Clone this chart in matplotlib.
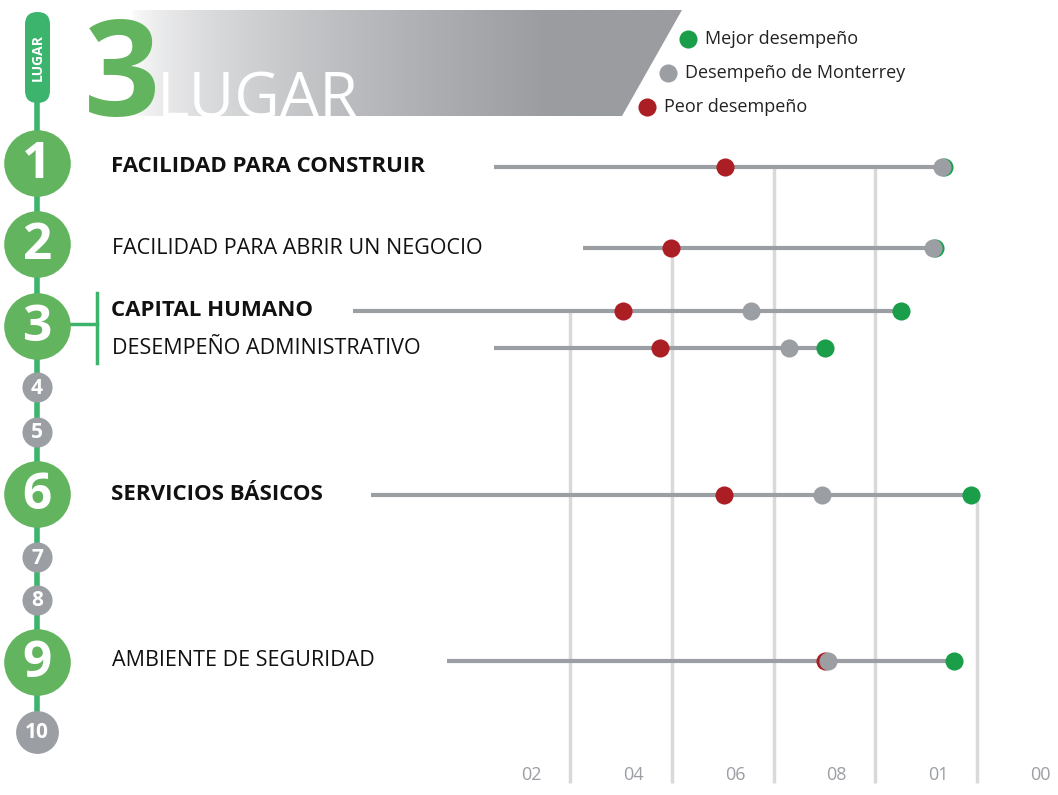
import numpy as np
import matplotlib
matplotlib.use("Agg")
from matplotlib import pyplot as plt
from matplotlib.patches import Polygon, FancyBboxPatch

# datos del ranking (valores en la escala 0-100 aprox.)
indicadores = ["FACILIDAD PARA CONSTRUIR", "FACILIDAD PARA ABRIR UN NEGOCIO",
               "CAPITAL HUMANO", "DESEMPEÑO ADMINISTRATIVO",
               "SERVICIOS BÁSICOS", "AMBIENTE DE SEGURIDAD"]
lugar = [1, 2, 3, 3, 6, 9]
negrita = [True, False, True, False, True, False]
peor = [50.4, 39.8, 30.4, 37.7, 50.3, 70.0]
monterrey = [93.0, 91.3, 55.5, 63.0, 69.5, 70.6]
mejor = [93.4, 91.8, 85.0, 70.0, 98.8, 95.4]

tick_labels = ["02", "04", "06", "08", "01", "00"]
grid_vals = [20, 40, 60, 80, 100]
grid_from_row = [2, 1, 0, 0, 4]

# layout (pixeles)
W, H = 1058, 795
row_y = [167, 248, 311, 348, 495, 661]
line_from = [5.1, 22.6, -22.6, 5.1, -19.1, -4.2]
rank_y = [163, 244, 326, 387, 432, 494, 557, 600, 662, 732]
PX_PER_UNIT = 5.09
X0_PX = 570  # pixel del valor 20

VERDE = "#1a9e4a"
VERDE_CLARO = "#62b55e"
VERDE_LINEA = "#3cb46e"
GRIS = "#9b9ea3"
ROJO = "#ab1e24"
GRID = "#d9d9d9"

plt.rcParams['font.family'] = ['Open Sans', 'DejaVu Sans']

fig = plt.figure(figsize=(W / 100, H / 100), dpi=100)

# ejes de decoracion en pixeles
deco = fig.add_axes([0, 0, 1, 1])
deco.set_xlim(0, W)
deco.set_ylim(H, 0)
deco.axis('off')

# ejes de datos
ax = fig.add_axes([0, 0, 1, 1], zorder=2)
ax.patch.set_alpha(0)
ax.set_xlim(20 - X0_PX / PX_PER_UNIT, 20 + (W - X0_PX) / PX_PER_UNIT)
ax.set_ylim(H, 0)
ax.axis('off')

# banner con degradado
banner = Polygon([(120, 10), (682, 10), (622, 116), (120, 116)], closed=True,
                 facecolor='none', edgecolor='none')
deco.add_patch(banner)
xs = np.linspace(0, 1, 400)
t = np.clip((xs - 0.02) / 0.75, 0, 1) ** 0.6
c0 = np.array([1.0, 1.0, 1.0])
c1 = np.array([0x9a, 0x9c, 0xa0]) / 255
grad = (c0[None, :] * (1 - t[:, None]) + c1[None, :] * t[:, None])[None, :, :]
im = deco.imshow(grad, extent=(120, 682, 116, 10), aspect='auto', zorder=1)
im.set_clip_path(banner)

deco.text(84, 116, "3", color=VERDE_CLARO, fontsize=96, fontweight='bold',
          ha='left', va='baseline', zorder=3)
deco.text(157, 118, "LUGAR", color='white', fontsize=45, ha='left',
          va='baseline', zorder=4)

# pastilla LUGAR y linea de tiempo
deco.plot([37, 37], [60, rank_y[-1]], color=VERDE_LINEA, lw=4, zorder=2)
pill = FancyBboxPatch((25, 12), 25, 91, boxstyle="round,pad=0,rounding_size=12.5",
                      facecolor=VERDE_LINEA, edgecolor='none', zorder=3)
deco.add_patch(pill)
deco.text(38, 58, "LUGAR", color='white', fontsize=10, fontweight='bold',
          rotation=90, ha='center', va='center', zorder=4)

for i, y in enumerate(rank_y):
    r = i + 1
    if r in lugar:
        deco.scatter([37], [y], s=2300, color=VERDE_CLARO, zorder=3, linewidths=0)
        deco.text(37, y + 2, str(r), color='white', fontsize=37, fontweight='bold',
                  ha='center', va='center', zorder=4)
    elif r == 10:
        deco.scatter([37], [y], s=950, color=GRIS, zorder=3, linewidths=0)
        deco.text(37, y + 1, str(r), color='white', fontsize=15, fontweight='bold',
                  ha='center', va='center', zorder=4)
    else:
        deco.scatter([37], [y], s=470, color=GRIS, zorder=3, linewidths=0)
        deco.text(37, y + 1, str(r), color='white', fontsize=15, fontweight='bold',
                  ha='center', va='center', zorder=4)

# corchete del lugar 3
deco.plot([70, 97], [324, 324], color=VERDE_LINEA, lw=2.5, zorder=2)
deco.plot([97, 97], [293, 363], color=VERDE_LINEA, lw=2.5, zorder=2)

# etiquetas
for name, y, b in zip(indicadores, row_y, negrita):
    if b:
        deco.text(111, y, name, color='#111111', fontsize=16, fontweight='bold',
                  ha='left', va='center', zorder=4)
    else:
        deco.text(112, y, name, color='#111111', fontsize=15.5,
                  ha='left', va='center', zorder=4)

# leyenda
leg = [("Mejor desempeño", VERDE, 688, 39), ("Desempeño de Monterrey", GRIS, 668, 73),
       ("Peor desempeño", ROJO, 647, 107)]
for txt, col, lx, ly in leg:
    deco.scatter([lx], [ly], s=170, color=col, linewidths=0, zorder=4)
    deco.text(lx + 17, ly, txt, color='#222222', fontsize=13, ha='left',
              va='center', zorder=4)

# lineas verticales de referencia
for g, ri in zip(grid_vals, grid_from_row):
    ax.plot([g, g], [row_y[ri], 783], color=GRID, lw=2.5, zorder=1,
            solid_capstyle='butt')

# etiquetas del eje
for i, lab in enumerate(tick_labels):
    ax.text(grid_vals[0] - 7.6 + 20 * i, 775, lab, color=GRIS, fontsize=13,
            ha='center', va='center')

# lineas y puntos
for i in range(len(indicadores)):
    y = row_y[i]
    ax.plot([line_from[i], max(mejor[i], monterrey[i])], [y, y], color=GRIS,
            lw=3, zorder=2, solid_capstyle='butt')
    ax.scatter([mejor[i]], [y], s=170, color=VERDE, linewidths=0, zorder=3)
    ax.scatter([peor[i]], [y], s=170, color=ROJO, linewidths=0, zorder=4)
    ax.scatter([monterrey[i]], [y], s=170, color=GRIS, linewidths=0, zorder=5)

fig.savefig("out.png", dpi=100)
